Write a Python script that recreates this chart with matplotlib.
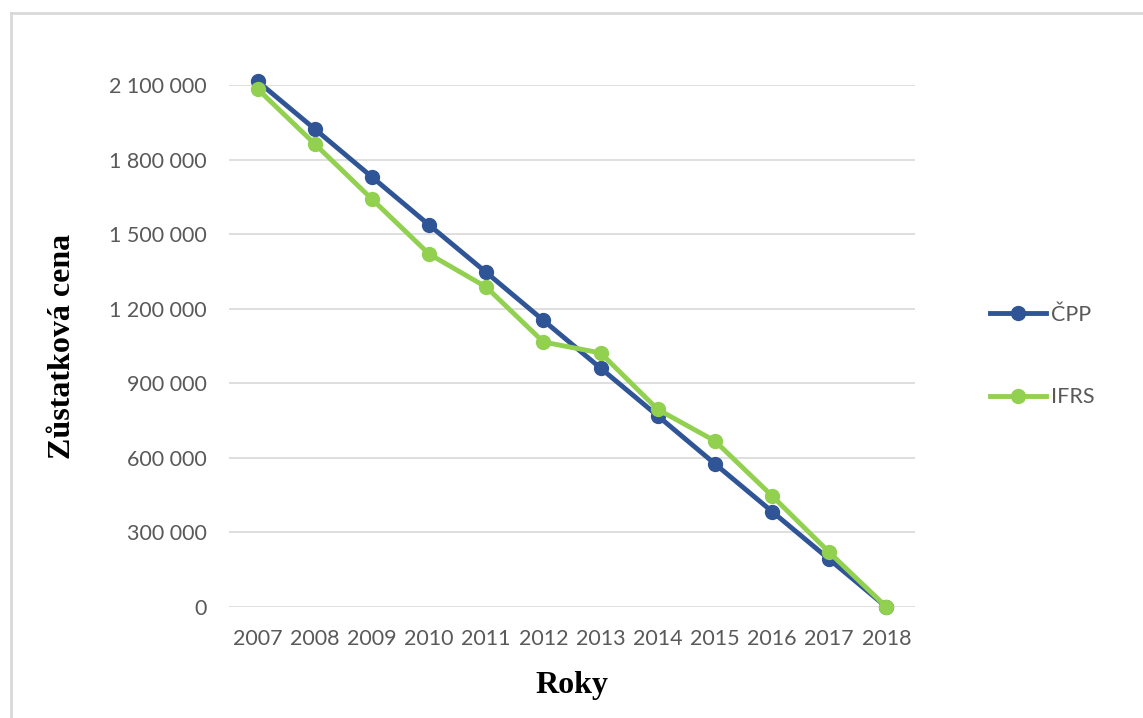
import matplotlib
matplotlib.use("Agg")
import matplotlib.pyplot as plt
from matplotlib.lines import Line2D
from matplotlib.ticker import FuncFormatter

years = ['2007', '2008', '2009', '2010', '2011', '2012', '2013', '2014', '2015', '2016', '2017', '2018']
cpp = [2115000, 1923000, 1730000, 1537000, 1346000, 1153000, 961000, 769000, 576000, 384000, 192000, 0]
ifrs = [2084000, 1863000, 1641000, 1420000, 1287000, 1066000, 1022000, 795000, 668000, 447000, 220000, 0]
y_ticks = [0, 300000, 600000, 900000, 1200000, 1500000, 1800000, 2100000]

blue = '#2F5597'
green = '#92D050'
gray = '#595959'

fig = plt.figure(figsize=(11.43, 7.18), dpi=100)
ax = fig.add_axes([229 / 1143, 1 - 607 / 718, 686 / 1143, 522 / 718])

x = list(range(len(years)))
ax.plot(x, cpp, color=blue, lw=3.5, marker='o', ms=10, label='ČPP', clip_on=False, zorder=3)
ax.plot(x, ifrs, color=green, lw=3.5, marker='o', ms=10, label='IFRS', clip_on=False, zorder=4)

ax.set_xlim(-0.5, len(years) - 0.5)
ax.set_ylim(0, 2100000)
ax.set_xticks(x)
ax.set_xticklabels(years)
ax.set_yticks(y_ticks)
ax.yaxis.set_major_formatter(FuncFormatter(lambda v, p: f'{int(v):,}'.replace(',', ' ')))
ax.tick_params(length=0, labelsize=15.5, labelcolor=gray)
ax.tick_params(axis='y', pad=16)
ax.tick_params(axis='x', pad=16)
for lab in ax.get_xticklabels() + ax.get_yticklabels():
    lab.set_family('Lato')

ax.grid(axis='y', color='#D9D9D9', lw=1.2)
ax.set_axisbelow(True)
for s in ax.spines.values():
    s.set_visible(False)

ax.set_xlabel('Roky', family='Liberation Serif', weight='bold', fontsize=23, labelpad=16)
ax.set_ylabel('Zůstatková cena', family='Liberation Serif', weight='bold', fontsize=23, labelpad=23)

leg = fig.legend(loc='center left', bbox_to_anchor=(971 / 1143, 1 - 356 / 718), frameon=False,
                 labelspacing=2.9, handlelength=2.6, handletextpad=0.2,
                 prop={'family': 'Lato', 'size': 15.5})
for t in leg.get_texts():
    t.set_color(gray)

# chart frame (top and left edges visible)
fig.add_artist(Line2D([11 / 1143, 1], [1 - 13 / 718, 1 - 13 / 718], color='#D9D9D9', lw=2))
fig.add_artist(Line2D([11 / 1143, 11 / 1143], [0, 1 - 13 / 718], color='#D9D9D9', lw=2))

fig.savefig('out.png', dpi=100)
